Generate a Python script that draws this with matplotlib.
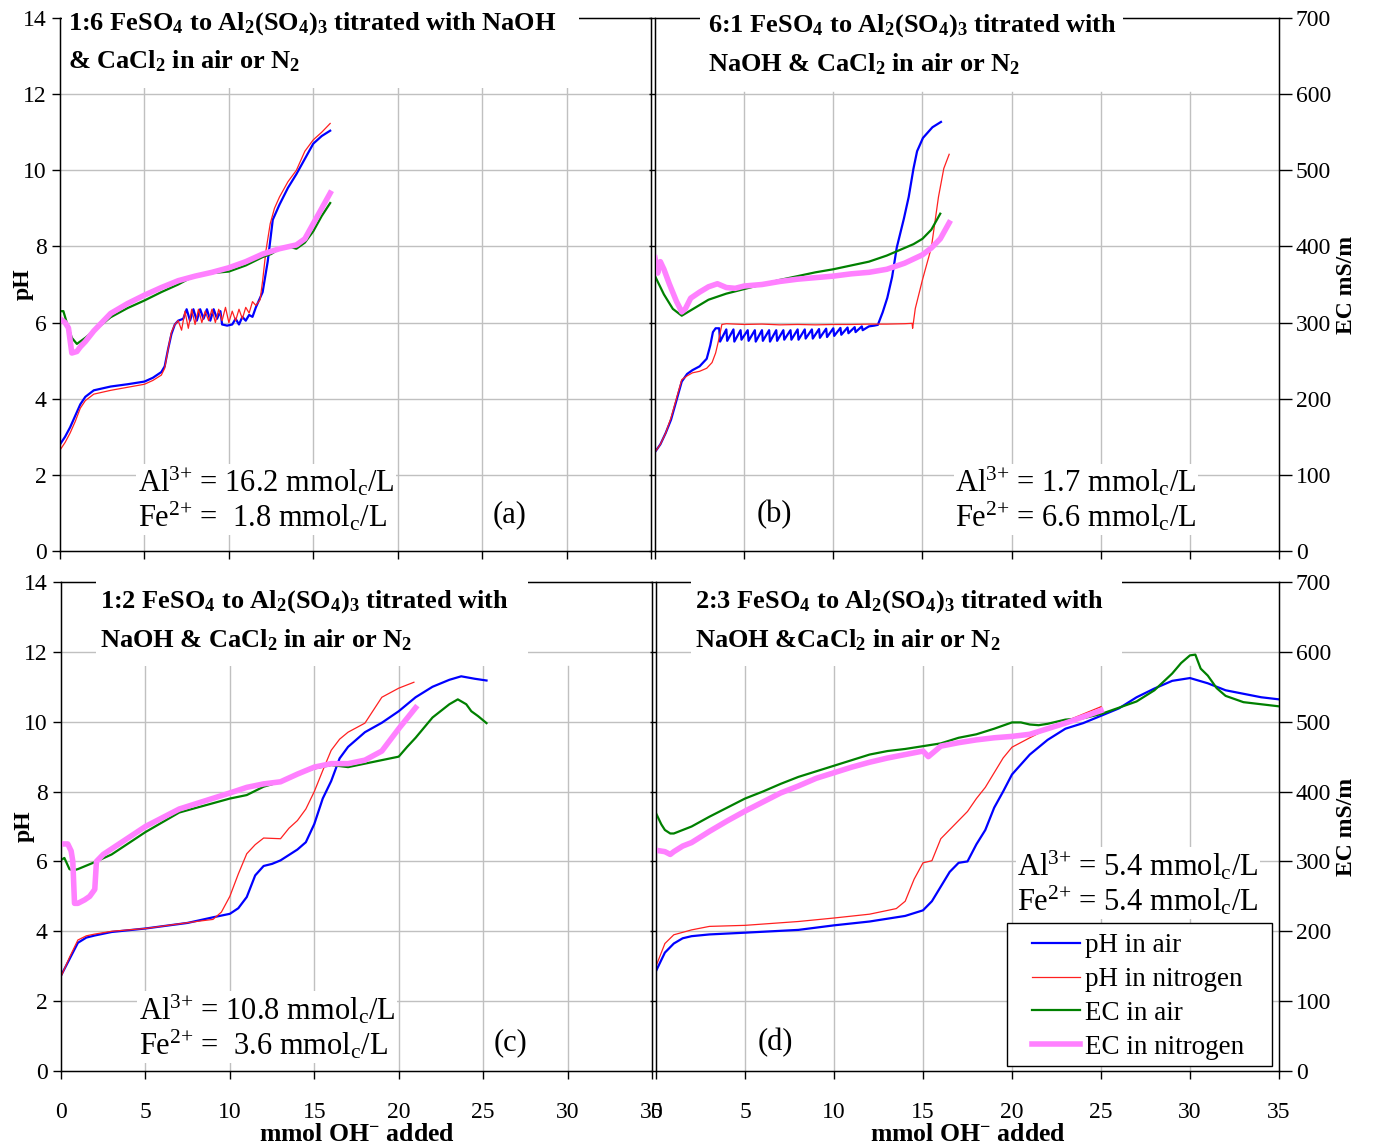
import matplotlib
matplotlib.use('Agg')
import matplotlib.pyplot as plt
from matplotlib.patches import Rectangle

plt.rcParams['font.family'] = ['Liberation Serif', 'DejaVu Serif']
plt.rcParams['mathtext.fontset'] = 'custom'
plt.rcParams['mathtext.rm'] = 'Liberation Serif'
plt.rcParams['mathtext.it'] = 'Liberation Serif:italic'
plt.rcParams['mathtext.bf'] = 'Liberation Serif:bold'

# ---------------- data ----------------
x_ticks = [0, 5, 10, 15, 20, 25, 30, 35]
ph_ticks = [0, 2, 4, 6, 8, 10, 12, 14]
ec_ticks = [0, 100, 200, 300, 400, 500, 600, 700]
legend_labels = ['pH in air', 'pH in nitrogen', 'EC in air', 'EC in nitrogen']

# panel (a) 1:6
a_ph_air_x = [0, 0.3, 0.6, 0.9, 1.2, 1.5, 2, 3, 4, 5, 5.5, 6, 6.2, 6.4, 6.6, 6.8, 7.0, 7.3,
              7.5, 7.7, 7.9, 8.1, 8.3, 8.5, 8.7, 8.9, 9.1, 9.3, 9.5, 9.6, 9.9, 10.2, 10.4, 10.6,
              10.8, 11.0, 11.2, 11.4, 11.6, 11.8, 12.0, 12.3, 12.6, 13.0, 13.5, 14.0, 14.5, 15.0,
              15.5, 16.0]
a_ph_air = [2.8, 3.0, 3.25, 3.55, 3.85, 4.05, 4.22, 4.32, 4.38, 4.45, 4.55, 4.7, 4.85, 5.3,
            5.7, 5.95, 6.05, 6.1, 6.35, 6.05, 6.35, 6.05, 6.35, 6.1, 6.35, 6.05, 6.35, 6.1, 6.3,
            5.95, 5.92, 5.95, 6.1, 5.95, 6.15, 6.05, 6.2, 6.15, 6.4, 6.6, 6.8, 7.6, 8.7, 9.1,
            9.54, 9.9, 10.3, 10.7, 10.9, 11.04]
a_ph_n2_x = [0, 0.3, 0.6, 0.9, 1.2, 1.5, 2, 3, 4, 5, 5.5, 6, 6.2, 6.4, 6.6, 6.8, 7.0, 7.2,
             7.4, 7.6, 7.8, 8.0, 8.2, 8.4, 8.6, 8.8, 9.0, 9.2, 9.4, 9.6, 9.8, 10.0, 10.2, 10.4,
             10.6, 10.8, 11.0, 11.2, 11.4, 11.6, 11.85, 12.0, 12.2, 12.45, 12.7, 13.0, 13.5,
             14.0, 14.5, 15.0, 15.5, 16.0]
a_ph_n2 = [2.65, 2.85, 3.1, 3.4, 3.75, 3.95, 4.12, 4.22, 4.3, 4.38, 4.48, 4.62, 4.8, 5.3,
           5.75, 5.95, 6.05, 5.8, 6.3, 5.85, 6.35, 5.95, 6.35, 6.0, 6.3, 6.05, 6.35, 6.0, 6.35,
           6.05, 6.4, 6.0, 6.3, 6.05, 6.35, 6.1, 6.4, 6.25, 6.55, 6.45, 6.6, 7.1, 7.9, 8.6, 9.0,
           9.3, 9.7, 10.0, 10.5, 10.8, 11.0, 11.23]
a_ec_air_x = [0, 0.2, 0.4, 0.7, 1.0, 1.5, 2, 3, 4, 5, 6, 7, 8, 9, 10, 11, 12, 12.5, 13, 13.5,
              14, 14.5, 15, 15.5, 16]
a_ec_air = [315, 315, 300, 280, 272, 280, 289, 307, 319, 329, 340, 350, 362, 365, 367, 375,
            386, 390, 397, 400, 397, 405, 420, 440, 457]
a_ec_n2_x = [0, 0.3, 0.5, 0.7, 1.0, 1.2, 1.5, 2, 3, 4, 5, 6, 7, 8, 9, 10, 11, 12, 13, 14,
             14.5, 15, 15.5, 16]
a_ec_n2 = [305, 300, 293, 260, 262, 268, 275, 289, 312, 325, 336, 346, 355, 361, 366, 372,
           380, 390, 397, 402, 410, 430, 450, 470]

# panel (b) 6:1
b_ph_air_x = [0, 0.3, 0.6, 0.9, 1.2, 1.5, 1.8, 2.1, 2.5, 2.9, 3.1, 3.25, 3.4,
              3.6, 3.65, 4.0, 4.05, 4.4, 4.45, 4.8, 4.85, 5.2, 5.25, 5.6, 5.65, 6.0, 6.05,
              6.4, 6.45, 6.8, 6.85, 7.2, 7.25, 7.6, 7.65, 8.0, 8.05, 8.4, 8.45, 8.8, 8.85,
              9.2, 9.25, 9.6, 9.65, 10.0, 10.05, 10.4, 10.45, 10.8, 10.85, 11.2, 11.25,
              11.6, 11.65, 12.0, 12.3, 12.5, 12.77, 13.03, 13.3, 13.56, 13.96, 14.23, 14.5,
              14.7, 15.03, 15.56, 16.04]
b_ph_air = [2.6, 2.8, 3.1, 3.45, 3.95, 4.45, 4.65, 4.75, 4.85, 5.05, 5.4, 5.75, 5.85,
            5.85, 5.5, 5.82, 5.52, 5.82, 5.5, 5.8, 5.55, 5.8, 5.52, 5.8, 5.5, 5.8, 5.52,
            5.8, 5.5, 5.8, 5.52, 5.8, 5.55, 5.8, 5.55, 5.82, 5.55, 5.82, 5.58, 5.82, 5.58,
            5.83, 5.6, 5.84, 5.62, 5.85, 5.65, 5.86, 5.68, 5.87, 5.72, 5.88, 5.75,
            5.9, 5.8, 5.9, 5.92, 5.94, 6.27, 6.65, 7.2, 7.97, 8.73, 9.3, 10.05,
            10.5, 10.85, 11.13, 11.27]
b_ph_n2_x = [0, 0.3, 0.6, 0.9, 1.2, 1.5, 1.8, 2.1, 2.5, 2.9, 3.2, 3.4, 3.6, 3.75, 4.0, 5, 6,
             7, 8, 9, 10, 11, 12, 13, 14, 14.42, 14.45, 14.6, 15.0, 15.5, 15.9, 16.2, 16.5]
b_ph_n2 = [2.6, 2.8, 3.1, 3.5, 4.0, 4.5, 4.6, 4.68, 4.72, 4.8, 4.95, 5.2, 5.6, 5.95, 5.97,
           5.95, 5.96, 5.94, 5.95, 5.94, 5.95, 5.95, 5.96, 5.96, 5.97, 5.98, 5.85, 6.37, 7.12,
           7.97, 9.3, 10.05, 10.42]
b_ec_air_x = [0, 0.5, 1.0, 1.5, 2, 3, 4, 5, 6, 7, 8, 9, 10, 11, 12, 13, 14, 14.5, 15, 15.5, 16]
b_ec_air = [361, 337, 318, 309, 316, 330, 338, 344, 350, 356, 361, 366, 370, 375, 380, 388,
            398, 403, 410, 422, 443]
b_ec_n2_x = [0, 0.15, 0.3, 0.5, 0.8, 1.2, 1.5, 1.7, 2, 2.5, 3, 3.5, 4, 4.5, 5, 6, 7, 8, 9,
             10, 11, 12, 13, 14, 15, 15.5, 16, 16.5]
b_ec_n2 = [385, 365, 380, 370, 351, 328, 314, 318, 332, 340, 347, 351, 346, 345, 348, 350,
           354, 357, 359, 361, 364, 366, 370, 378, 389, 398, 410, 431]

# panel (c) 1:2
c_ph_air_x = [0, 0.5, 1, 1.5, 2, 3, 5, 7.5, 9, 10, 10.5, 11, 11.5, 12, 12.5, 13, 14, 14.5,
              15, 15.5, 16, 16.5, 17, 18, 19, 20, 21, 22, 23, 23.7, 24.5, 25.2]
c_ph_air = [2.73, 3.2, 3.67, 3.82, 3.88, 3.98, 4.08, 4.24, 4.4, 4.5, 4.66, 4.98, 5.6, 5.87,
            5.93, 6.03, 6.34, 6.55, 7.07, 7.8, 8.3, 8.95, 9.28, 9.7, 9.97, 10.3, 10.7, 11.0,
            11.2, 11.3, 11.23, 11.18]
c_ph_n2_x = [0, 0.5, 1, 1.5, 2, 3, 5, 8, 9, 9.5, 10, 10.5, 11, 11.5, 12, 13, 13.5, 14, 14.5,
             15, 15.5, 16, 16.5, 17, 18, 19, 20, 20.9]
c_ph_n2 = [2.7, 3.25, 3.75, 3.87, 3.92, 4.0, 4.08, 4.28, 4.34, 4.55, 5.0, 5.64, 6.22, 6.48,
           6.67, 6.65, 6.95, 7.17, 7.5, 8.0, 8.6, 9.18, 9.5, 9.7, 9.96, 10.7, 10.96, 11.13]
c_ec_air_x = [0, 0.2, 0.5, 0.7, 1, 1.5, 2, 3, 5, 7, 10, 11, 12, 13, 14, 15, 16, 17, 18, 19,
              20, 20.5, 21, 22, 23, 23.5, 24, 24.3, 24.7, 25.2]
c_ec_air = [302, 305, 289, 287, 289, 294, 299, 310, 342, 370, 390, 395, 407, 414, 425, 433,
            438, 435, 440, 445, 450, 464, 477, 506, 525, 532, 525, 515, 508, 498]
c_ec_n2_x = [0, 0.4, 0.6, 0.7, 0.8, 1.0, 1.4, 1.7, 2.0, 2.1, 2.5, 3, 5, 7, 10, 11, 12, 13,
             14, 15, 16, 17, 18, 19, 20, 21]
c_ec_n2 = [325, 325, 315, 300, 240, 240, 245, 250, 260, 300, 310, 318, 350, 375, 398, 406,
           411, 414, 425, 435, 440, 440, 445, 458, 490, 520]

# panel (d) 2:3
d_ph_air_x = [0, 0.3, 0.5, 1, 1.5, 2, 3, 5, 8, 10, 12, 14, 15, 15.5, 16, 16.5, 17, 17.5, 18,
              18.5, 19, 19.5, 20, 21, 22, 23, 24, 25, 26, 27, 28, 29, 30, 31, 32, 33, 34, 35]
d_ph_air = [2.86, 3.18, 3.39, 3.65, 3.8, 3.86, 3.91, 3.96, 4.04, 4.17, 4.28, 4.44, 4.6, 4.86,
            5.28, 5.7, 5.96, 6.0, 6.49, 6.9, 7.54, 8.0, 8.49, 9.06, 9.48, 9.8, 9.96, 10.17,
            10.38, 10.7, 10.95, 11.17, 11.25, 11.1, 10.9, 10.8, 10.7, 10.64]
d_ph_n2_x = [0, 0.5, 1, 2, 3, 5, 8, 10, 12, 13.5, 14, 14.5, 15, 15.5, 16, 16.5, 17, 17.5,
             18, 18.5, 19, 19.5, 20, 21, 22, 23, 24, 25]
d_ph_n2 = [3.0, 3.65, 3.9, 4.04, 4.14, 4.17, 4.28, 4.38, 4.49, 4.65, 4.86, 5.49, 5.96, 6.02,
           6.65, 6.91, 7.17, 7.43, 7.8, 8.12, 8.54, 8.96, 9.27, 9.54, 9.8, 10.01, 10.22, 10.43]
d_ec_air_x = [0, 0.3, 0.5, 0.8, 1, 1.5, 2, 3, 4, 5, 6, 7, 8, 9, 10, 11, 12, 13, 14, 15, 16,
              17, 18, 19, 20, 20.5, 21, 21.5, 22, 23, 24, 25, 26, 27, 28, 29, 29.5, 30, 30.3,
              30.6, 31, 31.5, 32, 33, 34, 35]
d_ec_air = [369, 353, 345, 340, 340, 345, 350, 364, 377, 390, 400, 411, 421, 429, 437, 445,
            453, 458, 461, 465, 469, 477, 482, 490, 499, 499, 496, 495, 497, 503, 505, 511,
            520, 529, 545, 569, 584, 595, 596, 576, 566, 548, 537, 528, 525, 522]
d_ec_n2_x = [0, 0.5, 0.8, 1, 1.5, 2, 3, 4, 5, 6, 7, 8, 9, 10, 11, 12, 13, 14, 15, 15.3, 16,
             17, 18, 19, 20, 21, 22, 23, 24, 25]
d_ec_n2 = [316, 314, 310, 314, 322, 327, 343, 358, 372, 385, 398, 408, 419, 427, 435, 442,
           448, 453, 458, 450, 465, 470, 474, 477, 479, 482, 490, 498, 507, 516]

# ---------------- figure ----------------
W, H = 1378, 1147
fig = plt.figure(figsize=(W / 100, H / 100), dpi=100)

GRID = '#C0C0C0'
C_AIR, C_N2, C_ECA, C_ECN = '#0000FF', '#FF2020', '#008000', '#FF80FF'
LW_AIR, LW_N2, LW_ECA, LW_ECN = 1.6, 0.9, 1.6, 4.0
TFS = 19


def px_axes(x0, x1, ytop, ybot):
    return fig.add_axes([x0 / W, 1 - ybot / H, (x1 - x0) / W, (ybot - ytop) / H])


panels = [
    dict(pos=(60, 651, 18, 551), left=True, bottom=False, gcut=12.15,
         data=(a_ph_air_x, a_ph_air, a_ph_n2_x, a_ph_n2, a_ec_air_x, a_ec_air, a_ec_n2_x, a_ec_n2),
         t1=r'1:6 FeSO$_\mathbf{4}$ to Al$_\mathbf{2}$(SO$_\mathbf{4}$)$_\mathbf{3}$ titrated with NaOH',
         t2=r'& CaCl$_\mathbf{2}$ in air or N$_\mathbf{2}$',
         tx=0.0135, ty1=0.99, ty2=0.919, box=(0.004, 0.868, 0.878, 1.02),
         ann='Al$^{3{+}}$ = 16.2 mmol$_\mathrm{c}$/L\nFe$^{2{+}}$ =  1.8 mmol$_\mathrm{c}$/L',
         annxy=(4.6, 1.35), lab='(a)', labxy=(26.6, 0.95)),
    dict(pos=(655, 1279, 18, 551), left=False, bottom=False, gcut=12.05,
         data=(b_ph_air_x, b_ph_air, b_ph_n2_x, b_ph_n2, b_ec_air_x, b_ec_air, b_ec_n2_x, b_ec_n2),
         t1=r'6:1 FeSO$_\mathbf{4}$ to Al$_\mathbf{2}$(SO$_\mathbf{4}$)$_\mathbf{3}$ titrated with',
         t2=r'NaOH & CaCl$_\mathbf{2}$ in air or N$_\mathbf{2}$',
         tx=0.085, ty1=0.985, ty2=0.914, box=(0.072, 0.865, 0.75, 1.02),
         ann='Al$^{3{+}}$ = 1.7 mmol$_\mathrm{c}$/L\nFe$^{2{+}}$ = 6.6 mmol$_\mathrm{c}$/L',
         annxy=(16.85, 1.35), lab='(b)', labxy=(6.7, 0.95)),
    dict(pos=(61, 652, 582, 1071), left=True, bottom=True, gcut=11.6,
         data=(c_ph_air_x, c_ph_air, c_ph_n2_x, c_ph_n2, c_ec_air_x, c_ec_air, c_ec_n2_x, c_ec_n2),
         t1=r'1:2 FeSO$_\mathbf{4}$ to Al$_\mathbf{2}$(SO$_\mathbf{4}$)$_\mathbf{3}$ titrated with',
         t2=r'NaOH & CaCl$_\mathbf{2}$ in air or N$_\mathbf{2}$',
         tx=0.066, ty1=0.96, ty2=0.882, box=(0.059, 0.828, 0.79, 1.02),
         ann='Al$^{3{+}}$ = 10.8 mmol$_\mathrm{c}$/L\nFe$^{2{+}}$ =  3.6 mmol$_\mathrm{c}$/L',
         annxy=(4.6, 1.25), lab='(c)', labxy=(26.6, 0.8)),
    dict(pos=(656, 1279, 582, 1071), left=False, bottom=True, gcut=11.6,
         data=(d_ph_air_x, d_ph_air, d_ph_n2_x, d_ph_n2, d_ec_air_x, d_ec_air, d_ec_n2_x, d_ec_n2),
         t1=r'2:3 FeSO$_\mathbf{4}$ to Al$_\mathbf{2}$(SO$_\mathbf{4}$)$_\mathbf{3}$ titrated with',
         t2=r'NaOH &CaCl$_\mathbf{2}$ in air or N$_\mathbf{2}$',
         tx=0.062, ty1=0.96, ty2=0.882, box=(0.056, 0.828, 0.748, 1.02),
         ann='Al$^{3{+}}$ = 5.4 mmol$_\mathrm{c}$/L\nFe$^{2{+}}$ = 5.4 mmol$_\mathrm{c}$/L',
         annxy=(20.3, 5.38), lab='(d)', labxy=(6.7, 0.8)),
]

for p in panels:
    ax = px_axes(*p['pos'])
    ax.set_xlim(0, 35)
    ax.set_ylim(0, 14)
    ax.set_xticks(x_ticks)
    ax.set_yticks(ph_ticks)
    for yv in ph_ticks[1:-1]:
        ax.axhline(yv, color=GRID, lw=1.0, zorder=0)
    for xv in x_ticks[1:-1]:
        ax.axvline(xv, ymin=0, ymax=p['gcut'] / 14, color=GRID, lw=1.0, zorder=0)
    for s in ax.spines.values():
        s.set_color('black')
        s.set_linewidth(1.0)
    ax.tick_params(axis='both', direction='out', length=6, width=1, labelsize=17)
    ax.tick_params(axis='x', pad=16)
    if not p['bottom']:
        ax.tick_params(axis='x', labelbottom=False)
    else:
        ax.set_xlabel(r'mmol OH$^{\mathbf{-}}$ added', fontsize=18.5, fontweight='bold',
                      labelpad=0)
    if p['left']:
        ax.set_ylabel('pH', fontsize=17, fontweight='bold')
        ax.yaxis.set_label_coords(-0.044, 0.5)
    else:
        ax.tick_params(axis='y', labelleft=False, length=4)

    xa, ya, xn, yn, xea, yea, xen, yen = p['data']
    la, = ax.plot(xa, ya, color=C_AIR, lw=LW_AIR)
    ln, = ax.plot(xn, yn, color=C_N2, lw=LW_N2)

    ax2 = ax.twinx()
    ax2.set_ylim(0, 700)
    ax2.set_yticks(ec_ticks)
    ax2.spines['right'].set_color('black')
    lea, = ax2.plot(xea, yea, color=C_ECA, lw=LW_ECA)
    len_, = ax2.plot(xen, yen, color=C_ECN, lw=LW_ECN)
    if p['left']:
        ax2.tick_params(axis='y', right=False, labelright=False)
    else:
        ax2.tick_params(axis='y', direction='out', length=9, width=1, labelsize=17, pad=3)
        ax2.set_ylabel('EC mS/m', fontsize=17, fontweight='bold')
        ax2.yaxis.set_label_coords(1.091, 0.5)

    # title with white backing
    bx0, by0, bx1, by1 = p['box']
    ax2.add_patch(Rectangle((bx0, by0), bx1 - bx0, by1 - by0, transform=ax2.transAxes,
                            facecolor='white', edgecolor='none', zorder=9, clip_on=False))
    ax2.text(p['tx'], p['ty1'], p['t1'], transform=ax2.transAxes, ha='left', va='center',
             fontsize=TFS, fontweight='bold', zorder=10)
    ax2.text(p['tx'], p['ty2'], p['t2'], transform=ax2.transAxes, ha='left', va='center',
             fontsize=TFS, fontweight='bold', zorder=10)

    # concentration annotation (in pH data coords via ax transform)
    ax2.text(p['annxy'][0], p['annxy'][1], p['ann'], transform=ax.transData, ha='left',
             va='center', fontsize=22, linespacing=1.05, zorder=10,
             bbox=dict(facecolor='white', edgecolor='none', pad=1))
    ax2.text(p['labxy'][0], p['labxy'][1], p['lab'], transform=ax.transData, ha='center',
             va='center', fontsize=22, zorder=10)

    if p['lab'] == '(d)':
        ax2.add_patch(Rectangle((0.563, 0.010), 0.989 - 0.563, 0.3027 - 0.010,
                                transform=ax2.transAxes, facecolor='white',
                                edgecolor='black', lw=1.0, zorder=10))
        leg = ax2.legend([la, ln, lea, len_], legend_labels, loc='upper left',
                         bbox_to_anchor=(0.604, 0.282), fontsize=19.5, frameon=False,
                         handlelength=1.75, handletextpad=0.2, labelspacing=0.33,
                         borderpad=0, borderaxespad=0)
        leg.set_zorder(11)

fig.savefig('out.png', dpi=100)
